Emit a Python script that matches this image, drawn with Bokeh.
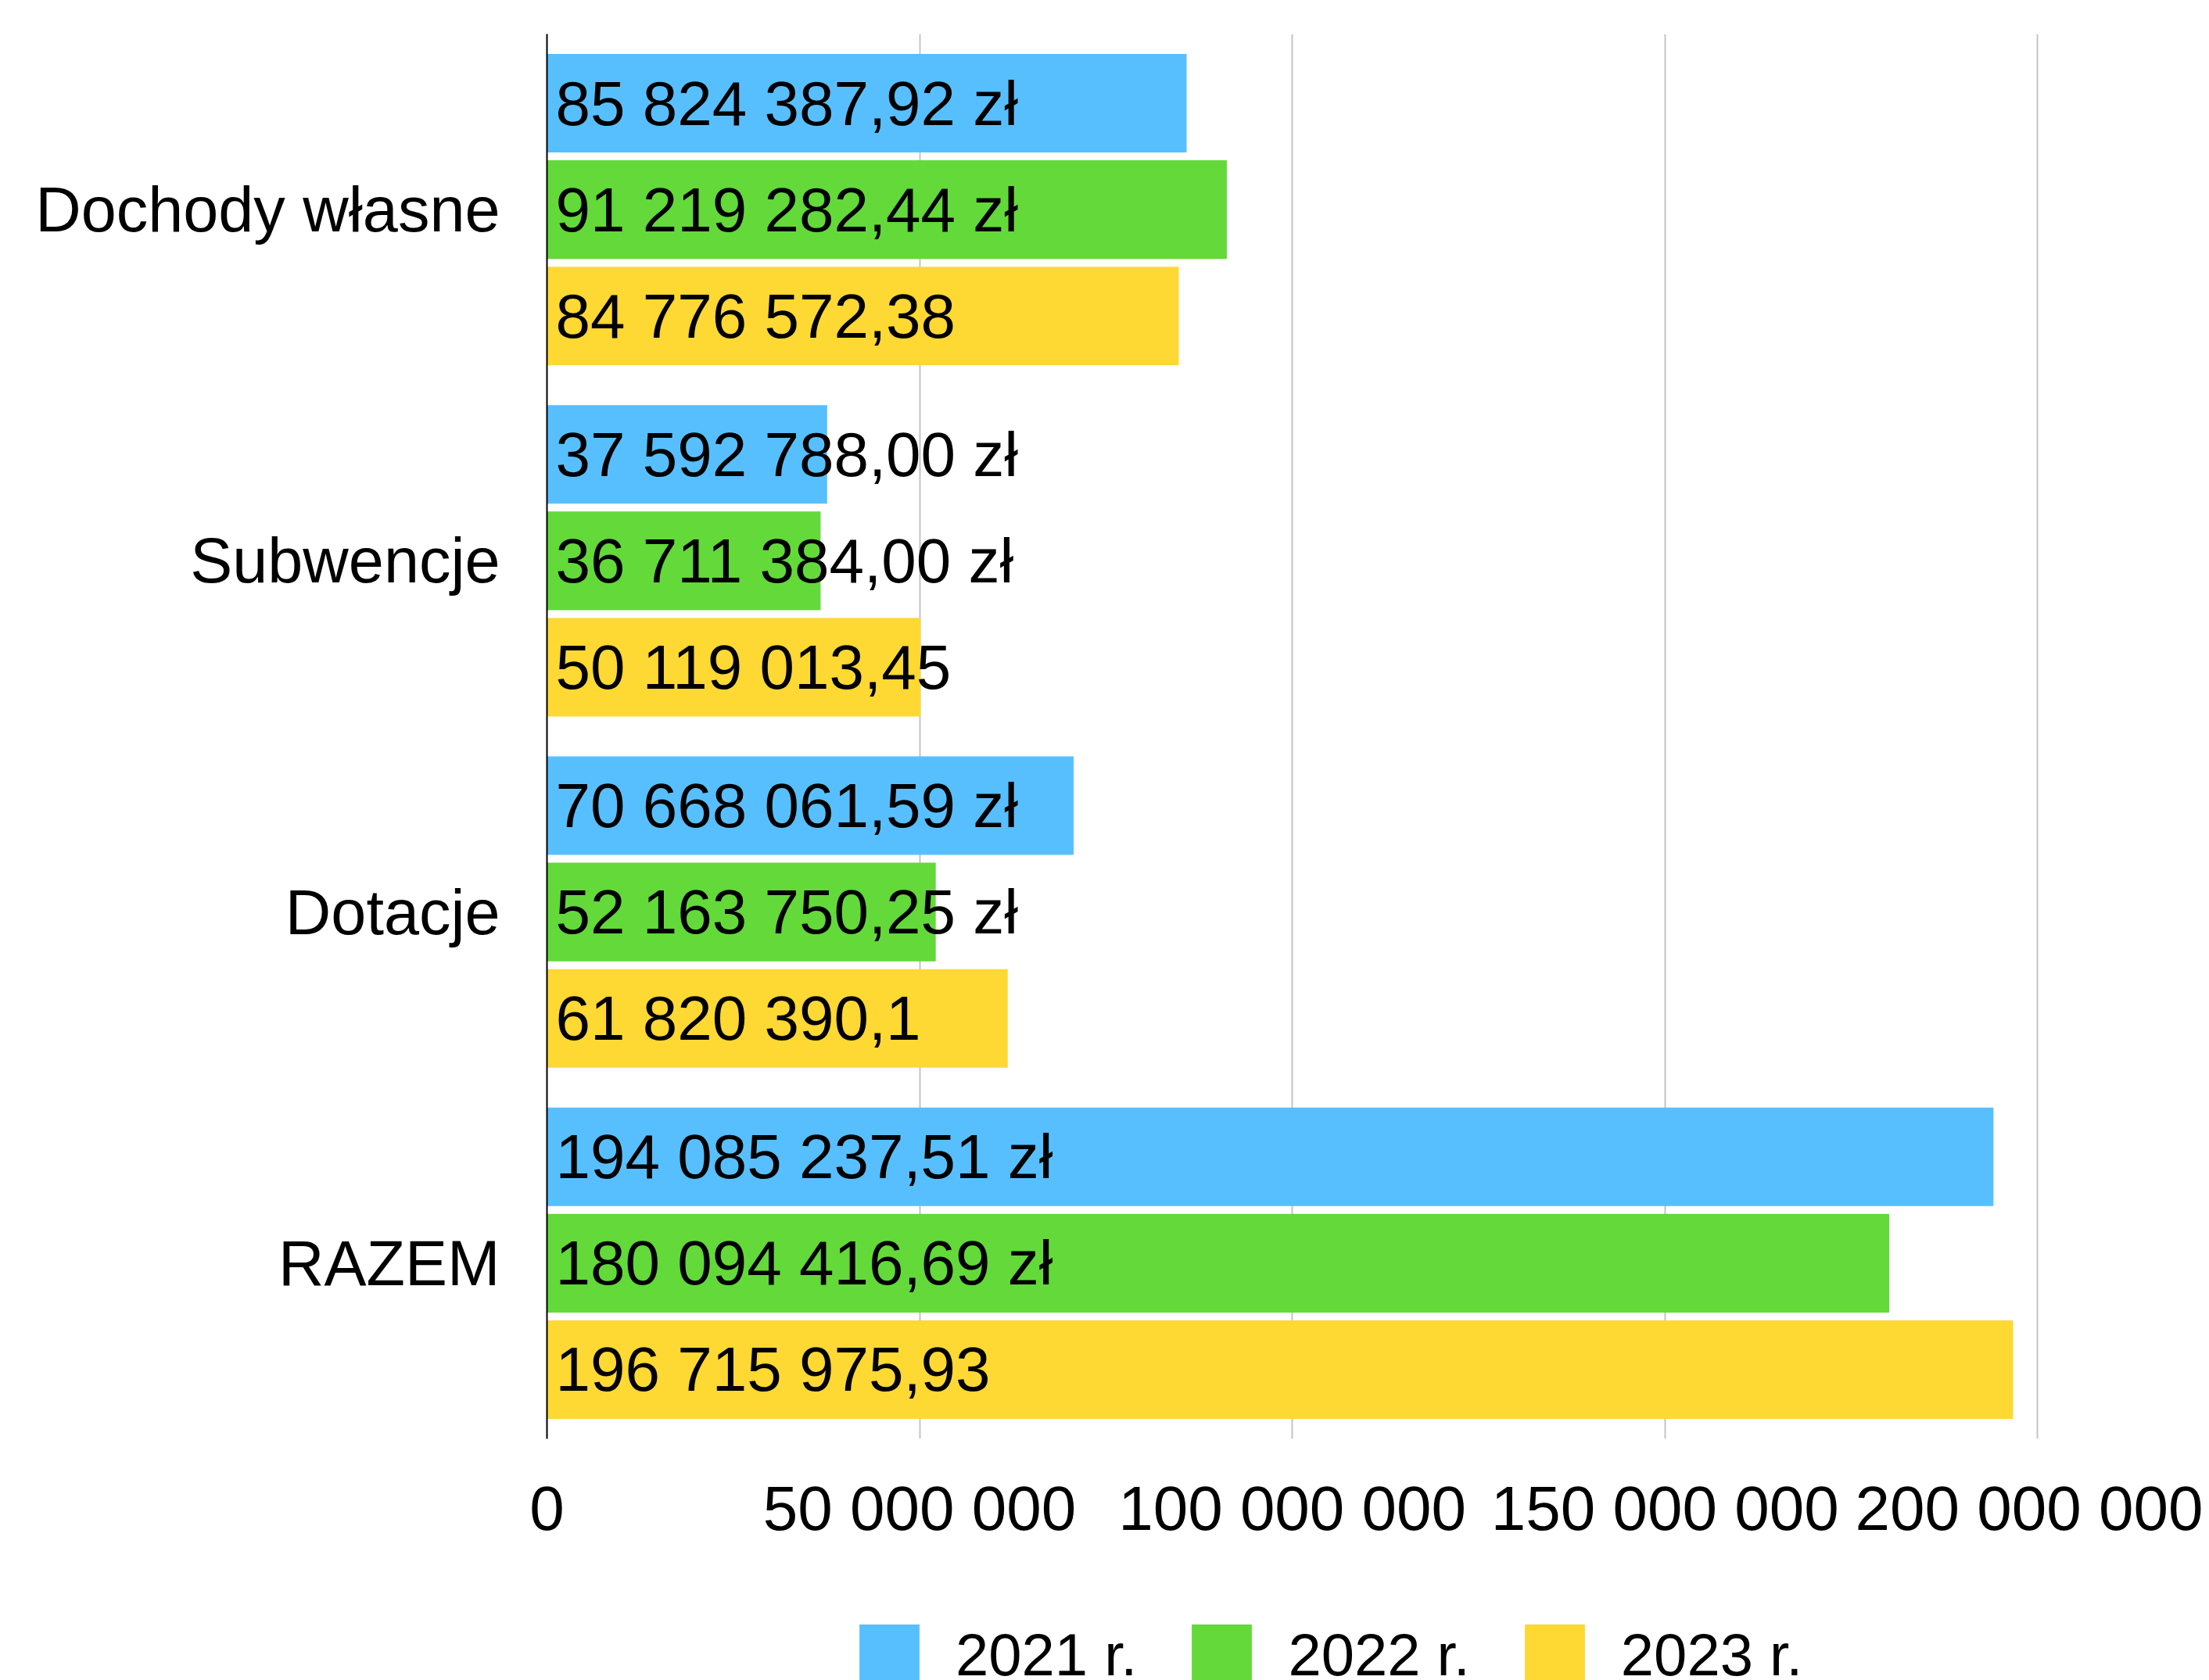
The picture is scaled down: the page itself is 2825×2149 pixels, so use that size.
from bokeh.plotting import figure
from bokeh.layouts import column
from bokeh.models import ColumnDataSource, FactorRange, Range1d, Legend, LegendItem, FixedTicker
from bokeh.transform import dodge
from bokeh.core.properties import value
from bokeh.embed import file_html
from bokeh.resources import INLINE

categories = ["Dochody własne", "Subwencje", "Dotacje", "RAZEM"]
series_names = ["2021 r.", "2022 r.", "2023 r."]
values_2021 = [85824387.92, 37592788.00, 70668061.59, 194085237.51]
values_2022 = [91219282.44, 36711384.00, 52163750.25, 180094416.69]
values_2023 = [84776572.38, 50119013.45, 61820390.1, 196715975.93]
labels_2021 = ["85 824 387,92 zł", "37 592 788,00 zł", "70 668 061,59 zł", "194 085 237,51 zł"]
labels_2022 = ["91 219 282,44 zł", "36 711 384,00 zł", "52 163 750,25 zł", "180 094 416,69 zł"]
labels_2023 = ["84 776 572,38", "50 119 013,45", "61 820 390,1", "196 715 975,93"]
tick_values = [0, 50000000, 100000000, 150000000, 200000000]
tick_labels = ["0", "50 000 000", "100 000 000", "150 000 000", "200 000 000"]

colors = ["#58BFFF", "#63D93A", "#FED833"]
offsets = [0.303, 0.0, -0.303]
FONT = "Liberation Sans"

p = figure(
    width=2817, height=2040,
    y_range=FactorRange(factors=list(reversed(categories)), range_padding=0),
    x_range=Range1d(0, 200500000),
    output_backend="svg", toolbar_location=None,
    min_border_left=699, min_border_right=207, min_border_top=43, min_border_bottom=200,
)
p.outline_line_color = None
p.background_fill_color = "white"

sources = []
for vals, labs, col, off in zip([values_2021, values_2022, values_2023],
                                [labels_2021, labels_2022, labels_2023], colors, offsets):
    src = ColumnDataSource(dict(cat=categories, v=vals, lab=labs, zero=[0] * len(vals)))
    sources.append(src)
    p.hbar(y=dodge("cat", off, range=p.y_range), left=0, right="v", height=0.281,
           fill_color=col, line_color=None, source=src)
    p.text(x="zero", y=dodge("cat", off, range=p.y_range), text="lab", source=src,
           x_offset=11, text_baseline="middle", text_align="left",
           text_font=value(FONT), text_font_size="80px", text_color="black")

# axes
p.xaxis.ticker = FixedTicker(ticks=tick_values)
p.xaxis.major_label_overrides = {v: l for v, l in zip(tick_values, tick_labels)}
p.xaxis.axis_line_color = None
p.xaxis.major_tick_line_color = None
p.xaxis.major_tick_out = 0
p.xaxis.major_tick_in = 0
p.xaxis.minor_tick_line_color = None
p.xaxis.major_label_text_font = FONT
p.xaxis.major_label_text_font_size = "80px"
p.xaxis.major_label_text_color = "black"
p.xaxis.major_label_standoff = 44

p.yaxis.axis_line_color = "black"
p.yaxis.axis_line_width = 2
p.yaxis.major_tick_line_color = None
p.yaxis.major_tick_out = 0
p.yaxis.major_tick_in = 0
p.yaxis.minor_tick_line_color = None
p.yaxis.major_label_text_font = FONT
p.yaxis.major_label_text_font_size = "81px"
p.yaxis.major_label_text_color = "black"
p.yaxis.major_label_standoff = 60

p.xgrid.grid_line_color = "#c4c4c4"
p.xgrid.grid_line_width = 2
p.ygrid.grid_line_color = None

# legend strip below the chart (its series renderers are hidden; only the legend shows)
p2 = figure(
    width=2817, height=109,
    x_range=p.x_range,
    y_range=FactorRange(factors=list(reversed(categories)), range_padding=0),
    x_axis_type=None, y_axis_type=None,
    output_backend="svg", toolbar_location=None,
    min_border_left=0, min_border_right=0, min_border_top=0, min_border_bottom=0,
)
p2.outline_line_color = None
p2.grid.grid_line_color = None
legend_renderers = []
for src, col in zip(sources, colors):
    r = p2.hbar(y="cat", left=0, right="v", height=0.281, fill_color=col,
                line_color=None, source=src)
    r.visible = False
    legend_renderers.append(r)
legend = Legend(
    items=[LegendItem(label=n, renderers=[r]) for n, r in zip(series_names, legend_renderers)],
    orientation="horizontal", location=(390, -15),
    glyph_width=96, glyph_height=96, label_standoff=37, spacing=60,
    padding=0, margin=0, border_line_color=None, background_fill_alpha=0,
    label_text_font=FONT, label_text_font_size="76px", label_text_color="black",
)
p2.add_layout(legend, "center")

layout = column(p, p2, spacing=0)
open("out.html", "w").write(file_html(layout, INLINE))
